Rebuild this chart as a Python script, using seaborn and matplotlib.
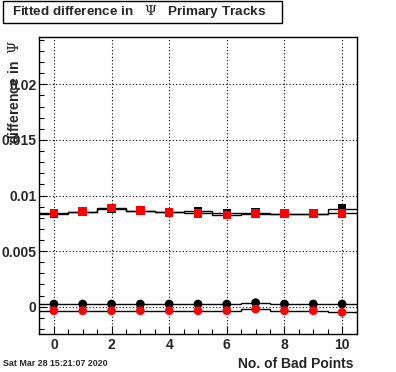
import numpy as np
import matplotlib
matplotlib.use("Agg")
import matplotlib.pyplot as plt
from matplotlib.patches import Rectangle
from matplotlib.ticker import MultipleLocator
import pandas as pd
import seaborn as sns

# values
bad_points = [0, 1, 2, 3, 4, 5, 6, 7, 8, 9, 10]
sq_black = [0.00835, 0.00854, 0.00880, 0.00863, 0.00850, 0.00858, 0.00842, 0.00847, 0.00836, 0.00836, 0.00883]
sq_red = [0.00842, 0.00854, 0.00887, 0.00863, 0.00849, 0.00840, 0.00824, 0.00836, 0.00836, 0.00836, 0.00840]
circ_black = [0.00024, 0.00024, 0.00024, 0.00024, 0.00024, 0.00024, 0.00024, 0.00036, 0.00024, 0.00024, 0.00024]
circ_red = [-0.00036, -0.00036, -0.00036, -0.00036, -0.00036, -0.00036, -0.00036, -0.00021, -0.00036, -0.00036, -0.00050]
x_ticks = [0, 2, 4, 6, 8, 10]
y_ticks = [0, 0.005, 0.01, 0.015, 0.02]
y_ticklabels = ["0", "0.005", "0.01", "0.015", "0.02"]

sns.set_style("white")
plt.rcParams['font.family'] = ['Liberation Sans', 'DejaVu Sans']
plt.rcParams['mathtext.fontset'] = 'dejavuserif'

fig = plt.figure(figsize=(3.96, 3.72), dpi=100)
ax = fig.add_axes([0.0997, 0.1022, 0.8006, 0.7983])

edges = np.arange(len(bad_points) + 1) - 0.5
series = [(sq_black, "black", "s"), (sq_red, "red", "s"),
          (circ_black, "black", "o"), (circ_red, "red", "o")]
for vals, col, mk in series:
    ax.stairs(vals, edges, color="black", lw=1.0, baseline=None)
for vals, col, mk in series:
    df = pd.DataFrame({"x": bad_points, "y": vals})
    sns.scatterplot(data=df, x="x", y="y", ax=ax, color=col, marker=mk,
                    s=38 if mk == "s" else 40, edgecolor="none", linewidth=0, zorder=3)

ax.set_xlim(-0.5, 10.5)
ax.set_ylim(-0.00245, 0.02425)
ax.set_xticks(x_ticks)
ax.set_xticklabels([str(t) for t in x_ticks], fontsize=10, fontweight="bold")
ax.set_yticks(y_ticks)
ax.set_yticklabels(y_ticklabels, fontsize=10, fontweight="bold")
ax.xaxis.set_minor_locator(MultipleLocator(0.5))
ax.yaxis.set_minor_locator(MultipleLocator(0.001))
ax.tick_params(which="both", direction="in", top=False, right=False,
               bottom=True, left=True, color="black", width=0.8)
ax.tick_params(which="major", length=6)
ax.tick_params(which="minor", length=3.5)
ax.tick_params(axis="x", pad=3)
ax.tick_params(axis="y", pad=2)
ax.grid(True, which="major", color="black", linestyle=(0, (1, 2)), lw=0.8)
for sp in ax.spines.values():
    sp.set_color("black")
    sp.set_linewidth(1.0)
ax.set_xlabel("")
ax.set_ylabel("")

# ROOT style title box
fig.add_artist(Rectangle((3 / 396, 1 - 23 / 372), 279 / 396, 22 / 372,
                         transform=fig.transFigure, facecolor="white",
                         edgecolor="black", lw=1.0))
fig.text(12 / 396, 1 - 12 / 372, r"Fitted difference in   $\Psi$   Primary Tracks",
         fontsize=9.7, fontweight="bold", ha="left", va="center")

fig.text(15 / 396, 1 - 40 / 372, r"difference in  $\Psi$", rotation=90,
         fontsize=10, fontweight="bold", ha="center", va="top")
fig.text(354 / 396, 1 - 363.5 / 372, "No. of Bad Points", fontsize=10,
         fontweight="bold", ha="right", va="center")
fig.text(3 / 396, 1 - 363 / 372, "Sat Mar 28 15:21:07 2020", fontsize=6.4,
         fontweight="bold", ha="left", va="center")

fig.savefig("out.png", dpi=100, facecolor="white")
